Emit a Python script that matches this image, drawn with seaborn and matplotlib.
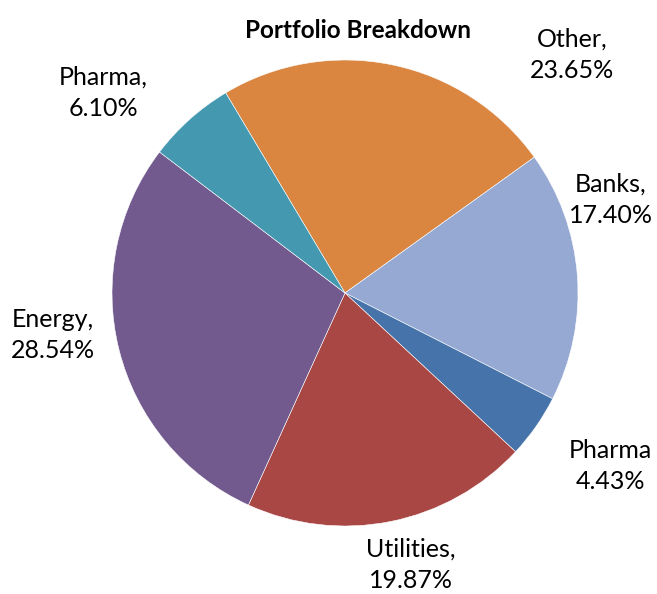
import matplotlib
matplotlib.use("Agg")
import matplotlib.pyplot as plt
import seaborn as sns

# ---- data ----
sectors = ["Other", "Banks", "Pharma", "Utilities", "Energy", "Pharma"]
shares = [23.65, 17.40, 4.43, 19.87, 28.54, 6.10]
# label text as shown (the small Pharma slice has no comma)
label_names = ["Other,", "Banks,", "Pharma", "Utilities,", "Energy,", "Pharma,"]
colors = ["#DA8641", "#95A9D3", "#4674AA", "#A94745", "#725A8E", "#4499B1"]

# label centres in pixels (x from left, y from top) of a 657x594 canvas
label_px = [(572, 55), (611, 200), (610, 466), (411, 565), (53, 335), (103, 93)]

sns.set_theme(style="white")
plt.rcParams['font.family'] = ['Lato', 'DejaVu Sans']

W, H = 657, 594
fig = plt.figure(figsize=(W / 100, H / 100), dpi=100)

# pie centre at (345, 293) px, radius 233 px
cx, cy, r = 345, 293, 233
ax = fig.add_axes([(cx - r) / W, 1 - (cy + r) / H, 2 * r / W, 2 * r / H])
ax.pie(shares, colors=colors, startangle=120.8, counterclock=False,
       wedgeprops=dict(edgecolor='white', linewidth=0.4))
ax.set_xlim(-1, 1)
ax.set_ylim(-1, 1)
ax.set_aspect('equal')
ax.axis('off')

for name, val, (px, py) in zip(label_names, shares, label_px):
    fig.text(px / W, 1 - py / H, f"{name}\n{val:.2f}%", ha='center', va='center',
             fontsize=18, linespacing=1.45, color='black')

fig.text(358 / W, 1 - 30 / H, "Portfolio Breakdown", ha='center', va='center',
         fontsize=17.5, fontweight='bold', color='black')

fig.savefig('out.png', dpi=100)
